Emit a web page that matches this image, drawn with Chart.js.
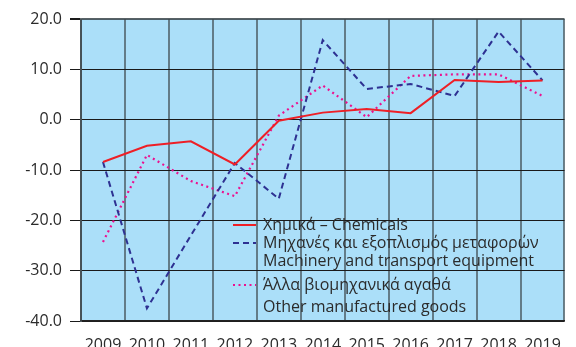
<!DOCTYPE html>
<html>
<head>
<meta charset="utf-8">
<script src="https://cdn.jsdelivr.net/npm/chart.js@4.4.1/dist/chart.umd.min.js"></script>
<style>
  html, body { margin: 0; padding: 0; background: #fff; overflow: hidden; }
  #wrap { width: 576px; height: 347px; overflow: hidden; }
</style>
</head>
<body>
<div id="wrap"><canvas id="chart" width="576" height="360"></canvas></div>
<script>
const years = ['2009', '2010', '2011', '2012', '2013', '2014', '2015', '2016', '2017', '2018', '2019'];

const chemicals = [-8.4, -5.2, -4.3, -8.9, -0.2, 1.4, 2.1, 1.3, 7.9, 7.5, 7.8];
const machinery = [-8.4, -37.5, -23.0, -8.6, -15.7, 15.8, 6.1, 7.1, 4.7, 17.5, 7.8];
const otherGoods = [-24.3, -7.0, -12.2, -15.2, 0.8, 6.8, 0.5, 8.7, 9.0, 9.0, 4.7];

const legendLines = [
    ['Χημικά – Chemicals'],
    ['Μηχανές και εξοπλισμός μεταφορών', 'Machinery and transport equipment'],
    ['Άλλα βιομηχανικά αγαθά', 'Other manufactured goods']
];

// light blue fill behind the plot area
const plotBackground = {
    id: 'plotBackground',
    beforeDraw(chart) {
        const {ctx, chartArea: a} = chart;
        ctx.save();
        ctx.fillStyle = '#abdff9';
        ctx.fillRect(a.left, a.top, a.right - a.left, a.bottom - a.top);
        ctx.restore();
    }
};

// legend drawn inside the plot, multi-line entries
const innerLegend = {
    id: 'innerLegend',
    afterDatasetsDraw(chart, args, opts) {
        const ctx = chart.ctx;
        ctx.save();
        ctx.font = opts.font;
        ctx.fillStyle = opts.color;
        ctx.textBaseline = 'middle';
        chart.data.datasets.forEach((ds, i) => {
            const rows = opts.rows[i];
            ctx.save();
            ctx.strokeStyle = ds.borderColor;
            ctx.lineWidth = ds.borderWidth;
            ctx.setLineDash(ds.borderDash || []);
            ctx.beginPath();
            ctx.moveTo(opts.lineX, rows[0]);
            ctx.lineTo(opts.lineX + opts.lineLength, rows[0]);
            ctx.stroke();
            ctx.restore();
            legendLines[i].forEach((t, j) => {
                ctx.fillText(t, opts.textX, rows[j]);
            });
        });
        ctx.restore();
    }
};

new Chart(document.getElementById('chart'), {
    type: 'line',
    data: {
        labels: years,
        datasets: [
            {
                label: legendLines[0].join(' '),
                data: chemicals,
                borderColor: '#ee1f26',
                borderWidth: 2,
                pointRadius: 0,
                tension: 0
            },
            {
                label: legendLines[1].join(' '),
                data: machinery,
                borderColor: '#2e3192',
                borderWidth: 2,
                borderDash: [6, 4],
                pointRadius: 0,
                tension: 0
            },
            {
                label: legendLines[2].join(' '),
                data: otherGoods,
                borderColor: '#ec118f',
                borderWidth: 2.2,
                borderDash: [2, 3.5],
                pointRadius: 0,
                tension: 0
            }
        ]
    },
    options: {
        responsive: false,
        animation: false,
        devicePixelRatio: 1,
        layout: {
            padding: {top: 19, right: 4, left: 0, bottom: 0}
        },
        plugins: {
            legend: {display: false},
            tooltip: {enabled: false},
            innerLegend: {
                font: '16px "Open Sans"',
                color: '#2b2b2b',
                lineX: 233,
                lineLength: 23,
                textX: 263,
                rows: [[225], [243, 261], [285, 307]]
            }
        },
        scales: {
            x: {
                offset: true,
                grid: {
                    offset: true,
                    color: 'rgba(60, 70, 75, 0.65)',
                    lineWidth: 2,
                    drawTicks: false
                },
                border: {color: '#222', width: 1.5},
                ticks: {
                    padding: 15,
                    color: '#2b2b2b',
                    font: {family: 'Open Sans', size: 16},
                    maxRotation: 0,
                    autoSkip: false
                },
                afterFit: (scale) => { scale.height = 39; }
            },
            y: {
                min: -40,
                max: 20,
                grid: {
                    color: (c) => c.tick && c.tick.value === 20 ? 'rgba(60, 70, 75, 0.85)' : '#1a1a1a',
                    lineWidth: (c) => c.tick && c.tick.value === 20 ? 2 : 1,
                    tickColor: '#1a1a1a',
                    tickLength: 11
                },
                border: {color: 'rgba(60, 70, 75, 0.8)', width: 2},
                ticks: {
                    stepSize: 10,
                    padding: 8,
                    color: '#2b2b2b',
                    font: {family: 'Open Sans', size: 16},
                    callback: (v) => v.toFixed(1)
                },
                afterFit: (scale) => { scale.width = 81; }
            }
        }
    },
    plugins: [plotBackground, innerLegend]
});
</script>
</body>
</html>
